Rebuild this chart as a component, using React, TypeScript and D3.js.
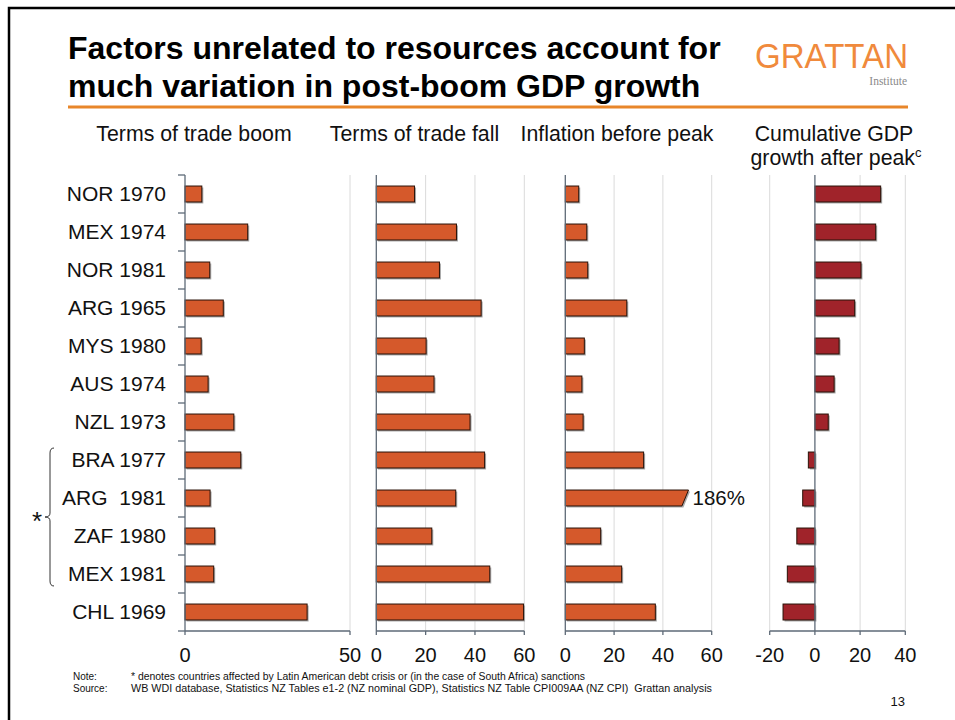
import React from "react";
import * as d3 from "d3";

const categories = ["NOR 1970", "MEX 1974", "NOR 1981", "ARG 1965", "MYS 1980", "AUS 1974", "NZL 1973", "BRA 1977", "ARG  1981", "ZAF 1980", "MEX 1981", "CHL 1969"];
const boom = [5.1, 19, 7.5, 11.6, 4.9, 7, 14.8, 16.9, 7.6, 9, 8.7, 37];
const fall = [15.5, 32.5, 25.6, 42.5, 20.2, 23.4, 38, 43.9, 32.2, 22.5, 46, 59.7];
const inflation = [5.5, 8.8, 9.2, 25.2, 7.8, 6.8, 7.3, 32.1, 186, 14.5, 23.1, 36.9];
const gdp = [29.1, 26.9, 20.4, 17.6, 10.7, 8.5, 5.9, -2.9, -5.4, -8, -12.2, -14.1];

const ticks1 = [0, 50];
const ticks2 = [0, 20, 40, 60];
const ticks3 = [0, 20, 40, 60];
const ticks4 = [-20, 0, 20, 40];

const headers = ["Terms of trade boom", "Terms of trade fall", "Inflation before peak"];
const title1 = "Factors unrelated to resources account for";
const title2 = "much variation in post-boom GDP growth";
const noteText = "* denotes countries affected by Latin American debt crisis or (in the case of South Africa) sanctions";
const sourceText = "WB WDI database, Statistics NZ Tables e1-2 (NZ nominal GDP), Statistics NZ Table CPI009AA (NZ CPI)  Grattan analysis";
const bracketed = ["BRA 1977", "MEX 1981"];

const FONT = "'Liberation Sans', Arial, sans-serif";
const ORANGE = "#D5592B";
const RED = "#A0232A";
const AXIS = "#5E6A77";
const GRID = "#DADADA";

const TOP = 175;
const BOTTOM = 631;

const y = d3.scaleBand<string>().domain(categories).range([TOP, BOTTOM]).paddingInner(0.58).paddingOuter(0.29);

type PanelProps = {
  values: number[];
  x: d3.ScaleLinear<number, number>;
  ticks: number[];
  color: string;
  breakAt?: number;
};

function Panel({ values, x, ticks, color, breakAt }: PanelProps) {
  const x0 = x(0);
  const h = y.bandwidth();
  return (
    <g>
      {ticks.filter((t) => t !== 0).map((t) => (
        <line key={"g" + t} x1={x(t)} x2={x(t)} y1={TOP} y2={BOTTOM} stroke={GRID} strokeWidth={1} />
      ))}
      {values.map((v, i) => {
        const yy = y(categories[i])!;
        if (breakAt !== undefined && v > breakAt) {
          const xt = x(breakAt + 0.5);
          const xb = x(breakAt - 2.2);
          const pts = `${x0},${yy} ${xt},${yy} ${xb},${yy + h} ${x0},${yy + h}`;
          const spts = `${x0 + 1.5},${yy + 1.5} ${xt + 1.5},${yy + 1.5} ${xb + 1.5},${yy + h + 1.5} ${x0 + 1.5},${yy + h + 1.5}`;
          return (
            <g key={i}>
              <polygon points={spts} fill="#a8a8a8" />
              <polygon points={pts} fill={color} stroke="#2a1208" strokeWidth={1} />
              <text x={xt + 4} y={yy + h / 2 + 7} fontSize={20.5} fontFamily={FONT} fill="#111">{v}%</text>
            </g>
          );
        }
        const xa = Math.min(x0, x(v));
        const w = Math.abs(x(v) - x0);
        return (
          <g key={i}>
            <rect x={xa + 1.5} y={yy + 1.5} width={w} height={h} fill="#a8a8a8" />
            <rect x={xa} y={yy} width={w} height={h} fill={color} stroke="#2a1208" strokeWidth={1} />
          </g>
        );
      })}
      <line x1={x0} x2={x0} y1={TOP} y2={BOTTOM} stroke={AXIS} strokeWidth={1.3} />
      <line x1={x.range()[0]} x2={x.range()[1]} y1={BOTTOM} y2={BOTTOM} stroke={AXIS} strokeWidth={1.3} />
      {ticks.map((t) => (
        <g key={"t" + t}>
          <line x1={x(t)} x2={x(t)} y1={BOTTOM} y2={BOTTOM + 4} stroke={AXIS} strokeWidth={1.3} />
          <text x={x(t)} y={BOTTOM + 31} textAnchor="middle" fontSize={20} fontFamily={FONT} fill="#111">{t}</text>
        </g>
      ))}
    </g>
  );
}

export default function App() {
  const x1 = d3.scaleLinear().domain([0, 50]).range([185, 350]);
  const x2 = d3.scaleLinear().domain([0, 60]).range([376.3, 524.3]);
  const x3 = d3.scaleLinear().domain([0, 60]).range([565.3, 711.7]);
  const x4 = d3.scaleLinear().domain([-20, 40]).range([769.7, 905.3]);

  const boundaries = d3.range(categories.length + 1).map((i) => TOP + i * y.step());
  const bTop = y(bracketed[0])! - 4;
  const bBot = y(bracketed[1])! + y.bandwidth() + 4;
  const bMid = (bTop + bBot) / 2;
  const bx = 50;

  return (
    <svg width={955} height={720} style={{ position: "absolute", left: 0, top: 0, background: "#fff" }} fontFamily={FONT}>
      <rect x={0} y={0} width={955} height={720} fill="#fff" />
      <path d={`M9,720 V8 H955`} fill="none" stroke="#000" strokeWidth={2.5} />

      <text x={68} y={59} fontSize={32} fontWeight="bold" fill="#000">{title1}</text>
      <text x={68} y={97} fontSize={32} fontWeight="bold" fill="#000">{title2}</text>
      <line x1={68} x2={908} y1={107} y2={107} stroke="#E8862A" strokeWidth={3} />

      <text x={755} y={68} fontSize={35} fill="#F08A3C" textLength={153} lengthAdjust="spacingAndGlyphs">GRATTAN</text>
      <text x={907} y={85} fontSize={11.5} textAnchor="end" fill="#8a8a8a" fontFamily="'Liberation Serif', serif">Institute</text>

      <text x={194} y={141} textAnchor="middle" fontSize={21.3} fill="#111">{headers[0]}</text>
      <text x={414.5} y={141} textAnchor="middle" fontSize={21.3} fill="#111">{headers[1]}</text>
      <text x={617} y={141} textAnchor="middle" fontSize={21.3} fill="#111">{headers[2]}</text>
      <text x={834} y={141} textAnchor="middle" fontSize={21.3} fill="#111">Cumulative GDP</text>
      <text x={836} y={165} textAnchor="middle" fontSize={21.3} fill="#111">
        growth after peak<tspan fontSize={13} dy={-8}>c</tspan>
      </text>

      {categories.map((c) => (
        <text key={c} x={166} y={y(c)! + y.bandwidth() / 2 + 7} textAnchor="end" fontSize={21} fill="#111" style={{ whiteSpace: "pre" }}>{c}</text>
      ))}
      {boundaries.map((b, i) => (
        <line key={"b" + i} x1={178} x2={185} y1={b} y2={b} stroke={AXIS} strokeWidth={1.3} />
      ))}

      <Panel values={boom} x={x1} ticks={ticks1} color={ORANGE} />
      <Panel values={fall} x={x2} ticks={ticks2} color={ORANGE} />
      <Panel values={inflation} x={x3} ticks={ticks3} color={ORANGE} breakAt={50} />
      <Panel values={gdp} x={x4} ticks={ticks4} color={RED} />

      <path
        d={`M${bx + 4},${bTop} Q${bx},${bTop} ${bx},${bTop + 5} V${bMid - 4} Q${bx},${bMid} ${bx - 5},${bMid} Q${bx},${bMid} ${bx},${bMid + 4} V${bBot - 5} Q${bx},${bBot} ${bx + 4},${bBot}`}
        fill="none"
        stroke="#333"
        strokeWidth={1}
      />
      <text x={37} y={bMid + 13} textAnchor="middle" fontSize={26} fill="#111">*</text>

      <text x={73} y={680} fontSize={10} fill="#111">Note:</text>
      <text x={131} y={680} fontSize={10.4} fill="#111" textLength={454} lengthAdjust="spacingAndGlyphs">{noteText}</text>
      <text x={73} y={692} fontSize={10} fill="#111">Source:</text>
      <text x={131} y={692} fontSize={10.4} fill="#111" textLength={581} lengthAdjust="spacingAndGlyphs" style={{ whiteSpace: "pre" }}>{sourceText}</text>
      <text x={905} y={706} textAnchor="end" fontSize={13} fill="#111">13</text>
    </svg>
  );
}
